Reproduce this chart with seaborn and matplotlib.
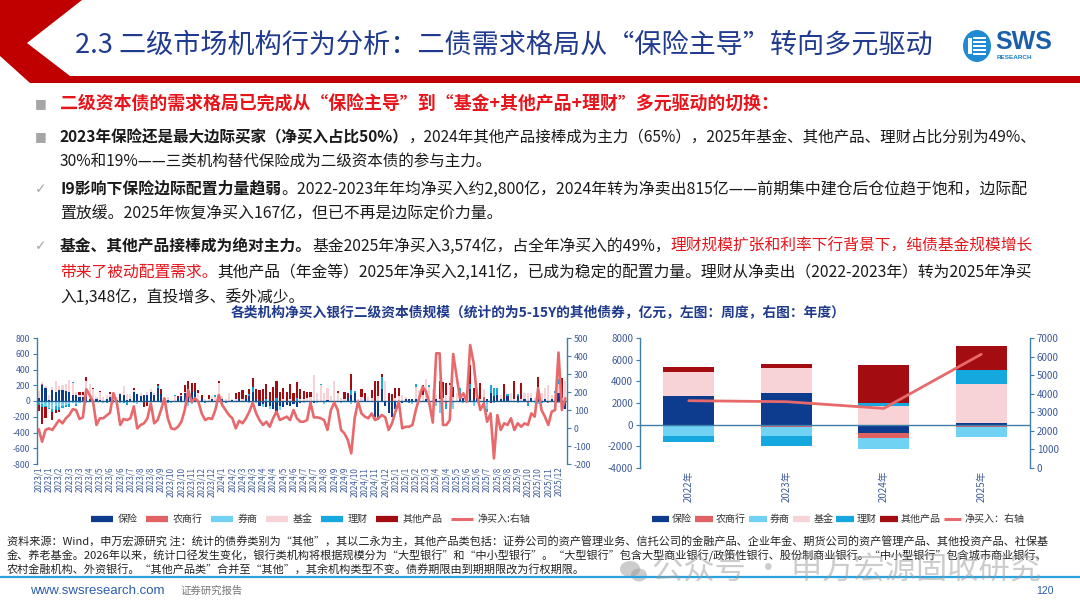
import numpy as np
import pandas as pd
import matplotlib
matplotlib.use("Agg")
import matplotlib.pyplot as plt
import seaborn as sns
from matplotlib.patches import Polygon, Circle, Rectangle, Ellipse
from matplotlib.lines import Line2D

# ---------------- data ----------------
series_names = ["保险", "农商行", "券商", "基金", "理财", "其他产品"]
line_name_left = "净买入:右轴"
line_name_right = "净买入：右轴"

week_tick_labels = [
    "2023/1", "2023/1", "2023/2", "2023/3", "2023/3", "2023/4", "2023/5", "2023/6", "2023/6",
    "2023/7", "2023/8", "2023/8", "2023/9", "2023/10", "2023/10", "2023/11", "2023/12", "2023/12",
    "2024/1", "2024/2", "2024/3", "2024/3", "2024/4", "2024/4", "2024/5", "2024/6", "2024/7",
    "2024/7", "2024/8", "2024/9", "2024/9", "2024/10", "2024/11", "2024/11", "2024/12",
    "2025/1", "2025/1", "2025/2", "2025/3", "2025/4", "2025/4", "2025/5", "2025/6", "2025/6",
    "2025/7", "2025/8", "2025/8", "2025/9", "2025/10", "2025/10", "2025/11", "2025/12",
]

# weekly net purchases (亿元), 156 weeks
w_baoxian = [
    35, 200, 160, 10, 140, 120, 140, 140, 130, 120, 75, 80, 50,
    55, 70, 20, 10, 20, 10, 5, 20, 50, 10, 10, 90, 80,
    10, 20, 110, 90, 60, 80, 70, 120, 80, 170, 90, 30, 15,
    5, 0, 40, 60, 100, 150, 120, 130, 0, 40, 0, 0, 20,
    0, 0, 20, 0, 0, 10, 0, 20, 0, 30, 60, 120, 30,
    -60, -40, -80, -60, -100, -180, -60, -80, -50, -60, -40, -80, -30,
    0, 0, 0, -20, 0, 0, 0, 10, 0, 0, 0, 0, 0,
    40, 80, 100, 0, 0, 20, 0, 0, -200, -240, 150, -60, -150,
    -200, -100, -60, -30, 30, 20, 30, 30, 20, 0, 30, 0, -10,
    20, 0, 0, 0, 0, 0, 0, 20, 40, 0, 150, 30, 40,
    0, 0, 30, 100, 60, 80, 30, 20, 60, 0, 0, 60, 0,
    20, 0, 40, 0, 120, 0, 20, 0, 30, 0, 100, 0, -100,
]
w_nongshang = [
    0, 20, 0, 0, 0, 0, 0, 0, 0, 0, 0, 0, 0,
    0, 0, 0, 0, 0, 0, 0, 0, 0, 0, 0, 0, 0,
    0, 0, 0, 0, 0, 0, 0, 0, 0, 0, 0, 0, 0,
    0, 0, 0, 0, 0, 0, 0, 0, 0, 0, 0, 0, 0,
    0, 0, 0, 0, 0, 0, 0, 0, 0, 0, 0, 0, 0,
    0, 0, 0, 0, 0, 0, 0, 0, 0, 0, 0, 0, 0,
    0, 0, 0, 0, 0, 0, 0, 0, 0, 0, 0, 0, 0,
    0, 0, 0, 0, 0, 0, 0, 0, 0, 0, 0, 0, 0,
    0, 0, 0, 0, 0, 0, 0, 0, 0, 0, 0, 0, 0,
    0, 0, 0, -40, 0, 0, 0, 0, 0, 0, 0, 0, 0,
    0, 50, 0, 0, 0, 0, 0, 0, 0, 0, 0, 0, 0,
    0, -30, 0, 0, 0, 0, 0, -20, 0, 0, 0, 0, 0,
]
w_quanshang = [
    -30, -40, -60, -90, -100, -60, -70, -60, -50, -40, -30, -40, -20,
    -10, -20, -10, 0, -10, 0, -30, 0, 0, -20, 0, -30, 0,
    0, 0, -20, -40, 0, 0, 0, 0, 0, 0, -30, -20, 0,
    -20, 0, 0, 0, 0, -60, -40, 0, 0, 0, 0, 0, 0,
    0, 0, -20, 0, 0, 0, 0, 0, 0, 0, -30, -60, -30,
    0, -30, 0, -40, 0, 0, -50, 0, 0, 0, 0, 0, 0,
    -20, 0, 0, 0, -20, 0, -40, 0, 0, 0, 0, -20, 0,
    0, -40, -20, 0, 0, 0, 0, 0, -30, 0, 0, 0, 0,
    0, 0, 0, 0, 0, 0, -40, 0, 0, 0, 0, -30, 0,
    -60, -150, 0, 0, 0, -100, 0, 0, -30, 0, 0, -60, 0,
    0, 0, -100, 0, -30, 0, 0, 0, 0, 0, 0, -20, 0,
    0, 0, 0, -20, -40, 0, 0, 0, 0, 0, -20, 0, 0,
]
w_jijin = [
    90, 20, 30, 60, 40, 130, 50, 60, 80, 150, 150, 40, 30,
    20, 180, 200, 140, 30, 100, 40, 50, 40, 100, 40, 10, 110,
    80, 70, 30, 0, 40, 0, 50, 30, 20, 0, 0, 0, 30,
    0, 60, 0, 20, 20, 0, 0, 0, 100, 0, 30, 20, 40,
    50, 230, 40, 30, 100, 20, 20, 0, 20, 0, 0, 0, 0,
    0, 0, 0, 0, 0, 0, 0, 20, 0, 30, 0, 0, 20,
    30, 40, 50, 330, 100, 200, 100, 150, 60, 250, 100, 40, 20,
    0, 0, 0, 30, 50, 0, 50, 40, 0, 60, 0, 250, 0,
    0, 40, 60, 80, 20, 0, 0, 150, 120, 80, 250, 180, 150,
    60, 30, 40, 80, 200, 50, 100, 30, 0, 30, 0, 0, 50,
    30, 100, 0, 0, 0, 0, 50, 0, 0, 100, 20, 0, 30,
    80, 100, 60, 40, 0, 100, 150, 200, 50, 100, 120, 40, 250,
]
w_licai = [
    -20, -30, -20, -10, -40, -50, -40, -30, -30, -30, 20, -20, 0,
    0, 10, 0, -40, 0, 0, 0, -20, 0, 0, 0, 0, -20,
    -50, 0, 0, 0, 0, 0, 0, 0, 0, 20, 0, 0, -20,
    0, 10, 0, 0, 0, 0, 0, 0, 0, 0, -20, 0, 0,
    20, 0, 0, -30, 0, 0, 0, 0, 0, 0, 30, 60, 0,
    0, 0, 20, 0, 0, 40, 0, 0, 0, 0, 0, 40, 0,
    0, 0, -20, 0, 0, 10, 0, 0, 0, -30, 0, 0, 0,
    0, 60, 30, 0, 0, 0, 0, 0, 0, 0, 150, 0, 0,
    0, 0, 0, 0, 0, -20, 0, 30, 0, 0, 0, 20, 0,
    0, 0, 0, -60, 0, 0, 0, 120, 0, 0, 60, 0, 0,
    0, -50, -40, 100, 110, 80, 0, 0, 30, 0, 0, 30, 0,
    0, -30, 0, 0, 60, -20, 0, 0, 0, 30, 60, 0, 0,
]
w_qita = [
    -80, -220, -130, 0, -100, -40, -30, 0, 0, 0, 0, 0, 30,
    40, 50, 0, 20, 0, 20, 0, 0, 30, 0, 0, 0, 0,
    0, 0, 30, 0, 0, -70, -60, 0, 0, 30, 60, 0, 0,
    0, 0, 20, 20, 80, 110, 110, 100, 40, 40, 0, 60, 0,
    0, 20, 0, 0, 0, 0, 80, 100, 120, 40, 60, 110, 120,
    140, 150, 200, 120, 180, 220, 120, 150, 120, 180, 100, 200, 130,
    100, 80, 60, 0, 0, 0, 0, 0, 0, 0, 30, 0, 100,
    60, 200, 0, 0, 100, 80, 0, 100, 260, 200, 40, 0, 100,
    90, 120, 110, 0, 0, 0, 0, 0, 0, 120, 0, 0, 0,
    0, 220, 200, 150, 30, 130, 0, 0, 0, 80, 250, 130, 0,
    200, 0, 0, -20, 0, 0, 0, 200, 0, 0, 240, 0, 200,
    0, 0, 0, 0, 120, 0, 0, 0, 0, 0, 0, 250, 0,
]
w_net = [
    -7, -76, -11, -2, -11, 17, 44, 26, 54, 72, 104, 100, 50,
    59, 215, 183, 146, 17, 54, 54, 70, 85, 193, 140, 17, 50,
    44, 54, 120, -2, 17, 26, 54, 137, 26, 44, 100, 165, 54,
    -2, -7, 7, 35, 100, 211, 146, 165, 146, 80, 44, 55, 50,
    100, 183, 128, 100, 72, 54, -2, 40, 26, 54, 91, 141, 81,
    44, 17, 35, 7, 54, 91, 44, 54, 63, 44, 100, 54, 35,
    35, 44, 141, 59, 59, 54, 44, -11, 100, 141, 100, -11, -30,
    -67, -141, 54, 146, 81, 63, 54, 81, 44, 54, 72, 60, -11,
    26, 91, 146, -2, 7, 7, 17, 100, 165, 230, 202, 137, 30,
    415, 415, 17, 17, 44, 411, 289, 165, 193, 146, 461, 363, 183,
    100, 137, 35, 81, -169, 72, -11, 26, 17, 54, -11, 26, 7,
    26, 17, 81, 63, 220, 100, 63, 17, 91, 100, 419, 100, 165,
]

# annual net purchases (亿元)
years = ["2022年", "2023年", "2024年", "2025年"]
y_baoxian = [2650, 2960, -815, 167]
y_nongshang = [0, -200, -430, -240]
y_quanshang = [-1000, -800, -1040, -860]
y_jijin = [2230, 2230, 1740, 3574]
y_licai = [-600, -950, 240, 1348]
y_qita = [430, 370, 3570, 2141]
y_net = [3625, 3570, 3210, 6125]

colors = ["#0D3B8E", "#E06262", "#71D2F4", "#F7D3D8", "#14A8DE", "#A30D12"]
line_color = "#E8696B"
tick_blue = "#3F5A9A"
spine_col = "#3F7EA8"

# ---------------- figure ----------------
sns.set_theme(style="white")
plt.rcParams["font.family"] = ["Noto Sans CJK SC", "DejaVu Sans"]
plt.rcParams["axes.unicode_minus"] = False

W, H = 1080, 608
fig = plt.figure(figsize=(W / 100, H / 100), dpi=100)
fig.patch.set_facecolor("white")


def fx(x):
    return x / W


def fy(y):
    return 1 - y / H


# header shapes
red = "#C00000"
hdr = [(0, 0), (82, 0), (27, 43), (70, 76), (1080, 76), (1080, 83), (30, 83), (0, 56)]
fig.patches.append(Polygon([(fx(a), fy(b)) for a, b in hdr], closed=True,
                           transform=fig.transFigure, facecolor=red, edgecolor="none", zorder=1))
fig.text(fx(75), fy(45), "2.3 二级市场机构行为分析：二债需求格局从“保险主导”转向多元驱动",
         fontsize=19.5, color="#1F3A8F", va="center", ha="left")

# logo
logo_ax = fig.add_axes([fx(960), fy(63), fx(100), 34 / H])
logo_ax.set_xlim(0, 100)
logo_ax.set_ylim(0, 34)
logo_ax.axis("off")
logo_ax.add_patch(Ellipse((17, 17), 28, 32, facecolor="#1E8BD3", edgecolor="none"))
for yy in [8, 12, 16, 20, 24]:
    logo_ax.add_patch(Rectangle((13, yy), 13, 1.7, facecolor="white", edgecolor="none"))
logo_ax.add_patch(Rectangle((8, 9), 4, 16, facecolor="white", edgecolor="none"))
logo_ax.text(35, 21, "SWS", fontsize=18, fontweight="bold", color="#1B5FAA",
             family=["Liberation Sans", "DejaVu Sans"], va="center", ha="left")
logo_ax.text(37, 5.5, "RESEARCH", fontsize=4.6, fontweight="bold", color="#1B7FC4",
             family=["Liberation Sans", "DejaVu Sans"], va="center", ha="left")

# ---------------- bullet text ----------------
renderer = fig.canvas.get_renderer()
RED = "#E8141B"
BLK = "#1A1A1A"
GREY = "#A6A6A6"


def rich(x, y, segs, size=11.2):
    cx = x
    for txt, col, wt in segs:
        t = fig.text(fx(cx), fy(y), txt, color=col, fontsize=size, fontweight=wt,
                     va="center", ha="left")
        bb = t.get_window_extent(renderer=renderer)
        cx = bb.x1


def bullet(y, sym):
    fig.text(fx(35), fy(y), sym, color=GREY, fontsize=9 if sym == "■" else 10,
             va="center", ha="left", family=["DejaVu Sans"])


bullet(104, "■")
rich(60, 104, [("二级资本债的需求格局已完成从“保险主导”到“基金+其他产品+理财”多元驱动的切换：", RED, "bold")],
     size=12.9)
bullet(137, "■")
rich(60, 137, [("2023年保险还是最大边际买家（净买入占比50%）", BLK, "bold"),
               ("，2024年其他产品接棒成为主力（65%），2025年基金、其他产品、理财占比分别为49%、", BLK, "normal")])
rich(60, 161, [("30%和19%——三类机构替代保险成为二级资本债的参与主力。", BLK, "normal")])
bullet(189, "✓")
rich(60, 189, [("I9影响下保险边际配置力量趋弱", BLK, "bold"),
               ("。2022-2023年年均净买入约2,800亿，2024年转为净卖出815亿——前期集中建仓后仓位趋于饱和，边际配", BLK, "normal")],
     size=11.45)
rich(60, 214, [("置放缓。2025年恢复净买入167亿，但已不再是边际定价力量。", BLK, "normal")], size=11.45)
bullet(246, "✓")
rich(60, 246, [("基金、其他产品接棒成为绝对主力。", BLK, "bold"),
               ("基金2025年净买入3,574亿，占全年净买入的49%，", BLK, "normal"),
               ("理财规模扩张和利率下行背景下，纯债基金规模增长", RED, "normal")], size=11.35)
rich(60, 272, [("带来了被动配置需求。", RED, "normal"),
               ("其他产品（年金等）2025年净买入2,141亿，已成为稳定的配置力量。理财从净卖出（2022-2023年）转为2025年净买", BLK, "normal")],
     size=11.35)
rich(60, 297, [("入1,348亿，直投增多、委外减少。", BLK, "normal")], size=11.35)

# chart title
fig.text(fx(538), fy(312), "各类机构净买入银行二级资本债规模（统计的为5-15Y的其他债券，亿元，左图：周度，右图：年度）",
         fontsize=9.9, fontweight="bold", color="#1F3A8C", ha="center", va="center")


# ---------------- helpers ----------------
def stacked(ax, xs, arrays, width):
    pos = np.zeros(len(xs))
    neg = np.zeros(len(xs))
    for vals, col in zip(arrays, colors):
        v = np.asarray(vals, dtype=float)
        bottom = np.where(v >= 0, pos, neg)
        ax.bar(xs, v, bottom=bottom, width=width, color=col, linewidth=0, zorder=2)
        pos += np.clip(v, 0, None)
        neg += np.clip(v, None, 0)


def style_axes(ax, axr, lsize):
    for s in ["top", "bottom", "right"]:
        ax.spines[s].set_visible(False)
    ax.spines["left"].set_color(spine_col)
    ax.spines["left"].set_linewidth(1.0)
    for s in ["top", "bottom", "left"]:
        axr.spines[s].set_visible(False)
    axr.spines["right"].set_color(spine_col)
    axr.spines["right"].set_linewidth(1.0)
    ax.tick_params(axis="y", left=True, direction="out", length=3, width=0.8, color=spine_col,
                   labelsize=lsize, labelcolor=tick_blue, pad=2)
    axr.tick_params(axis="y", right=True, direction="out", length=3, width=0.8, color=spine_col,
                    labelsize=lsize, labelcolor=tick_blue, pad=2)
    ax.tick_params(axis="x", bottom=False, length=0, labelcolor=tick_blue, pad=2)
    ax.set_facecolor("none")
    axr.set_facecolor("none")
    ax.grid(False)
    axr.grid(False)


# ---------------- left chart (weekly) ----------------
ax1 = fig.add_axes([fx(37), fy(464), 530 / W, 126 / H])
nweeks = len(w_net)
xw = np.arange(nweeks)
stacked(ax1, xw, [w_baoxian, w_nongshang, w_quanshang, w_jijin, w_licai, w_qita], 0.62)
ax1.set_xlim(-0.5, nweeks - 0.5)
ax1.set_ylim(-800, 800)
ax1.set_yticks(np.arange(-800, 801, 200))
ax1.axhline(0, color="#1F5F8F", lw=1.0, zorder=3)
ax1.set_xticks(xw[::3])
ax1.set_xticklabels(week_tick_labels, rotation=90, fontsize=5.8)
ax1r = ax1.twinx()
wdf = pd.DataFrame({"week": xw, "net": w_net})
sns.lineplot(data=wdf, x="week", y="net", ax=ax1r, color=line_color, lw=1.9, zorder=4)
ax1r.set_ylim(-200, 500)
ax1r.set_yticks(np.arange(-200, 501, 100))
ax1r.set_xlim(-0.5, nweeks - 0.5)
ax1r.set_ylabel("")
ax1.set_ylabel("")
ax1r.set_xlabel("")
style_axes(ax1, ax1r, 6.3)

# ---------------- right chart (annual) ----------------
ax2 = fig.add_axes([fx(640), fy(468), 390 / W, 130 / H])
xy = np.arange(len(years))
stacked(ax2, xy, [y_baoxian, y_nongshang, y_quanshang, y_jijin, y_licai, y_qita], 0.52)
ax2.set_xlim(-0.5, len(years) - 0.5)
ax2.set_ylim(-4000, 8000)
ax2.set_yticks(np.arange(-4000, 8001, 2000))
ax2.axhline(0, color=spine_col, lw=1.0, zorder=3)
ax2.set_xticks(xy)
ax2.set_xticklabels(years, rotation=90, fontsize=7)
ax2r = ax2.twinx()
ydf = pd.DataFrame({"year": xy, "net": y_net})
sns.lineplot(data=ydf, x="year", y="net", ax=ax2r, color=line_color, lw=2.0, zorder=4)
ax2r.set_ylim(0, 7000)
ax2r.set_yticks(np.arange(0, 7001, 1000))
ax2r.set_xlim(-0.5, len(years) - 0.5)
ax2r.set_ylabel("")
ax2.set_ylabel("")
ax2r.set_xlabel("")
style_axes(ax2, ax2r, 7.0)

# legends
def legend_handles():
    hs = [Line2D([0], [0], color=c, lw=4.5, solid_capstyle="butt") for c in colors]
    hs.append(Line2D([0], [0], color=line_color, lw=2.2, solid_capstyle="butt"))
    return hs


fig.legend(legend_handles(), series_names + [line_name_left], loc="center",
           bbox_to_anchor=(fx(311), fy(519)), ncol=7, frameon=False, fontsize=7.2,
           handlelength=2.2, columnspacing=0.85, handletextpad=0.45, labelcolor="#333333")
fig.legend(legend_handles(), series_names + [line_name_right], loc="center",
           bbox_to_anchor=(fx(838), fy(519)), ncol=7, frameon=False, fontsize=7.2,
           handlelength=1.75, columnspacing=0.32, handletextpad=0.3, labelcolor="#333333")

# ---------------- footer ----------------
foot = [
    "资料来源：Wind，申万宏源研究 注：统计的债券类别为“其他”，其以二永为主，其他产品类包括：证券公司的资产管理业务、信托公司的金融产品、企业年金、期货公司的资产管理产品、其他投资产品、社保基",
    "金、养老基金。2026年以来，统计口径发生变化，银行类机构将根据规模分为“大型银行”和“中小型银行”。“大型银行”包含大型商业银行/政策性银行、股份制商业银行。“中小型银行”包含城市商业银行、",
    "农村金融机构、外资银行。“其他产品类”合并至“其他”，其余机构类型不变。债券期限由到期期限改为行权期限。",
]
for i, line in enumerate(foot):
    fig.text(fx(7), fy(542 + 14 * i), line, fontsize=8.0, color="#222222", va="center", ha="left")

# watermark
wm_ax = fig.add_axes([fx(612), fy(586), fx(45), 30 / H])
wm_ax.set_xlim(0, 45)
wm_ax.set_ylim(0, 30)
wm_ax.axis("off")
wm_ax.add_patch(Ellipse((18, 17), 20, 16, facecolor="#9A9A9A", alpha=0.5, edgecolor="none"))
wm_ax.add_patch(Ellipse((27, 11), 16, 13, facecolor="#9A9A9A", alpha=0.5, edgecolor="none"))
fig.text(fx(652), fy(571), "公众号 · 申万宏源固收研究", fontsize=22.5, color="#9A9A9A", alpha=0.5,
         va="center", ha="left")

fig.add_artist(Line2D([0, 1], [fy(577), fy(577)], transform=fig.transFigure,
                      color="#29A3DD", lw=1.6))
fig.text(fx(30), fy(591), "www.swsresearch.com", fontsize=9.5, color="#2B5DAA", va="center", ha="left",
         family=["Liberation Sans", "DejaVu Sans"])
fig.text(fx(180), fy(591), "证券研究报告", fontsize=7.5, color="#777777", va="center", ha="left")
fig.text(fx(1045), fy(591), "120", fontsize=7.5, color="#2B5DAA", va="center", ha="center",
         family=["Liberation Sans", "DejaVu Sans"])

fig.savefig("out.png", dpi=100, facecolor="white")
